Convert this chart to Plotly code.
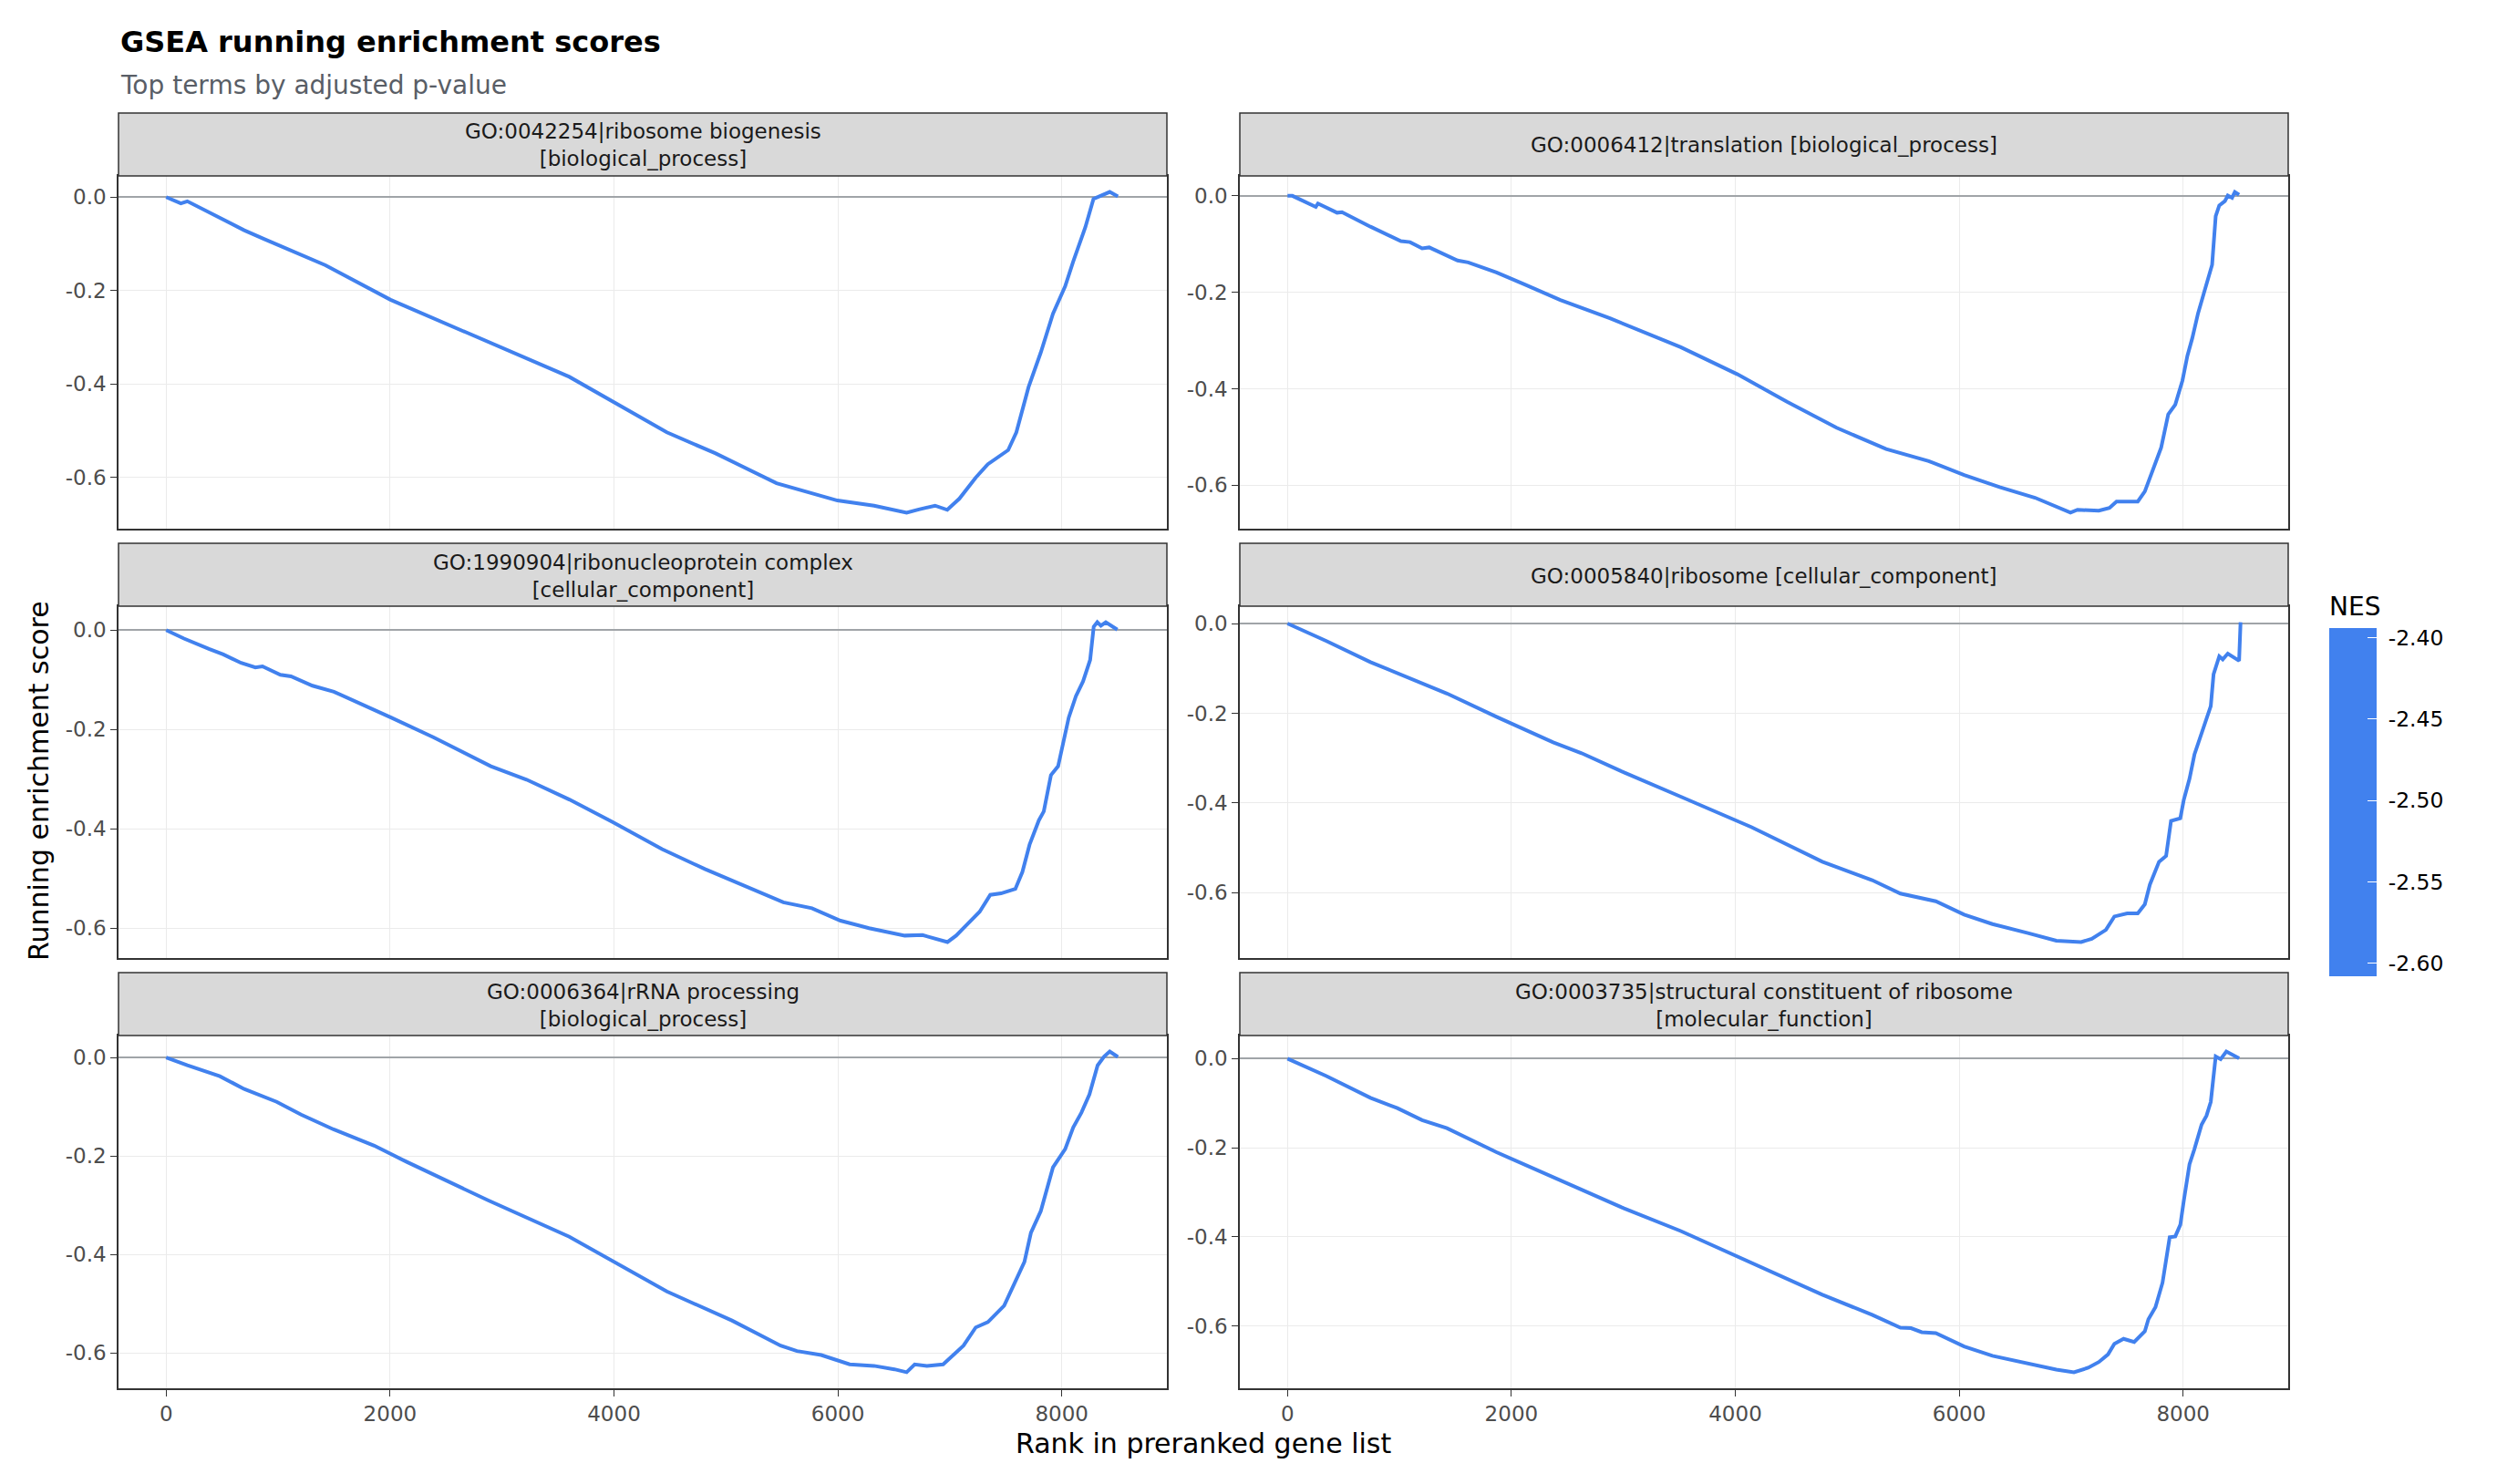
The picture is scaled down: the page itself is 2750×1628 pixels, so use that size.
import plotly.graph_objects as go
from plotly.subplots import make_subplots

# ---------- data ----------
terms = [
    "GO:0042254|ribosome biogenesis<br>[biological_process]",
    "GO:0006412|translation [biological_process]",
    "GO:1990904|ribonucleoprotein complex<br>[cellular_component]",
    "GO:0005840|ribosome [cellular_component]",
    "GO:0006364|rRNA processing<br>[biological_process]",
    "GO:0003735|structural constituent of ribosome<br>[molecular_function]",
]

rank_biogenesis = [0, 131, 189, 697, 878, 1423, 2004, 2693, 3601, 4472, 4908, 5452, 5996, 6323,
                   6614, 6723, 6868, 6977, 7085, 7231, 7340, 7521, 7594, 7703, 7812, 7921, 8030,
                   8102, 8211, 8283, 8356, 8428, 8501]
es_biogenesis = [0.0, -0.0135, -0.009, -0.071, -0.090, -0.146, -0.220, -0.291, -0.385, -0.504,
                 -0.549, -0.613, -0.650, -0.661, -0.676, -0.669, -0.661, -0.670, -0.646, -0.601,
                 -0.572, -0.542, -0.504, -0.407, -0.333, -0.250, -0.191, -0.138, -0.064, -0.004,
                 0.004, 0.011, 0.0015]

rank_translation = [0, 44, 253, 272, 443, 487, 741, 1013, 1095, 1203, 1266, 1519, 1614, 1867, 2120,
                    2437, 2880, 3513, 4019, 4462, 4905, 5348, 5728, 6044, 6361, 6677, 6994, 7057,
                    7247, 7342, 7405, 7595, 7658, 7722, 7804, 7867, 7930, 7994, 8038, 8082, 8133,
                    8184, 8228, 8259, 8291, 8323, 8373, 8399, 8437, 8462, 8500]
es_translation = [0.0, 0.0, -0.023, -0.016, -0.035, -0.034, -0.064, -0.094, -0.096, -0.109, -0.107,
                  -0.134, -0.138, -0.159, -0.184, -0.216, -0.254, -0.314, -0.370, -0.427, -0.481,
                  -0.525, -0.550, -0.579, -0.604, -0.626, -0.657, -0.651, -0.653, -0.647, -0.634,
                  -0.634, -0.613, -0.575, -0.522, -0.453, -0.433, -0.383, -0.332, -0.295, -0.244,
                  -0.203, -0.168, -0.143, -0.042, -0.020, -0.011, 0.0006, -0.004, 0.008, 0.002]

rank_rnp = [0, 159, 382, 510, 669, 797, 860, 1020, 1115, 1307, 1498, 1753, 2008, 2390, 2900, 3219,
            3601, 3983, 4429, 4812, 5194, 5513, 5768, 6023, 6278, 6597, 6756, 6884, 6979, 7056,
            7158, 7266, 7361, 7457, 7585, 7648, 7712, 7795, 7839, 7903, 7967, 8011, 8062, 8126,
            8190, 8253, 8285, 8317, 8349, 8393, 8496]
es_rnp = [0.0, -0.017, -0.038, -0.049, -0.066, -0.075, -0.073, -0.090, -0.093, -0.112, -0.124,
          -0.151, -0.176, -0.216, -0.274, -0.301, -0.341, -0.386, -0.441, -0.481, -0.518, -0.548,
          -0.560, -0.585, -0.600, -0.615, -0.614, -0.623, -0.628, -0.615, -0.591, -0.567, -0.533,
          -0.530, -0.521, -0.487, -0.432, -0.383, -0.365, -0.292, -0.274, -0.231, -0.176, -0.133,
          -0.103, -0.060, 0.007, 0.016, 0.009, 0.016, 0.001]

rank_ribosome = [0, 348, 741, 981, 1203, 1424, 1867, 2373, 2627, 3006, 3513, 4146, 4778, 5222,
                 5475, 5601, 5791, 6044, 6297, 6614, 6867, 7089, 7184, 7310, 7386, 7500, 7595,
                 7658, 7703, 7785, 7848, 7892, 7975, 8006, 8057, 8101, 8165, 8209, 8247, 8272,
                 8323, 8354, 8399, 8500, 8513]
es_ribosome = [0.0, -0.039, -0.086, -0.110, -0.134, -0.156, -0.208, -0.265, -0.289, -0.332, -0.386,
               -0.454, -0.531, -0.572, -0.602, -0.609, -0.619, -0.649, -0.670, -0.690, -0.707,
               -0.710, -0.703, -0.683, -0.653, -0.646, -0.646, -0.626, -0.582, -0.531, -0.518,
               -0.440, -0.434, -0.393, -0.346, -0.292, -0.245, -0.218, -0.184, -0.113, -0.073,
               -0.080, -0.067, -0.083, 0.003]

rank_rrna = [0, 189, 479, 697, 987, 1205, 1495, 1858, 2149, 2875, 3601, 4472, 5053, 5488, 5634,
             5851, 6105, 6323, 6505, 6614, 6686, 6795, 6940, 7122, 7231, 7340, 7485, 7594, 7666,
             7724, 7812, 7921, 8030, 8102, 8175, 8247, 8320, 8378, 8428, 8501]
es_rrna = [0.0, -0.016, -0.038, -0.064, -0.090, -0.116, -0.146, -0.179, -0.212, -0.290, -0.364,
           -0.475, -0.534, -0.585, -0.596, -0.604, -0.623, -0.626, -0.633, -0.639, -0.623, -0.626,
           -0.623, -0.585, -0.548, -0.537, -0.504, -0.452, -0.415, -0.356, -0.312, -0.223, -0.186,
           -0.142, -0.112, -0.075, -0.016, 0.002, 0.012, 0.001]

rank_structural = [0, 348, 741, 981, 1203, 1424, 1867, 2373, 2627, 3006, 3513, 4146, 4778, 5222,
                   5475, 5570, 5665, 5791, 6044, 6297, 6614, 6867, 7025, 7152, 7247, 7329, 7386,
                   7468, 7563, 7658, 7690, 7753, 7816, 7880, 7930, 7975, 8006, 8057, 8101, 8165,
                   8209, 8247, 8291, 8335, 8386, 8500]
es_structural = [0.0, -0.039, -0.088, -0.111, -0.138, -0.156, -0.210, -0.266, -0.292, -0.336,
                 -0.387, -0.459, -0.530, -0.575, -0.604, -0.605, -0.614, -0.616, -0.646, -0.667,
                 -0.684, -0.698, -0.704, -0.694, -0.681, -0.664, -0.640, -0.629, -0.636, -0.612,
                 -0.585, -0.558, -0.503, -0.401, -0.399, -0.373, -0.319, -0.237, -0.203, -0.148,
                 -0.128, -0.097, 0.005, -0.001, 0.016, 0.001]

ranks = [rank_biogenesis, rank_translation, rank_rnp, rank_ribosome, rank_rrna, rank_structural]
scores = [es_biogenesis, es_translation, es_rnp, es_ribosome, es_rrna, es_structural]

nes_range = [-2.608, -2.394]
nes_ticks = [-2.60, -2.55, -2.50, -2.45, -2.40]
x_ticks = [0, 2000, 4000, 6000, 8000]
y_ticks = [-0.6, -0.4, -0.2, 0.0]

# ---------- layout geometry (page pixels; the page body adds an 8px offset) ----------
OFF = 8
W, H = 2750 - OFF, 1628 - OFF
LEFT, RIGHT, TOP, BOTTOM = 130, 2510, 124, 1523
PW, PH = RIGHT - LEFT, BOTTOM - TOP
cols_px = [(130, 1280), (1360, 2510)]
panels_px = [(193, 580), (665, 1051), (1136, 1523)]
strips_px = [(124, 193), (596, 665), (1067, 1136)]

LINE_COL = "#4181EE"
FONT = "DejaVu Sans"


def fx(p):
    return (p - LEFT) / PW


def fy(p):
    return (BOTTOM - p) / PH


fig = make_subplots(rows=3, cols=2)

xmax = max(max(r) for r in ranks)
xpad = 0.05 * xmax
xrange = [-xpad, xmax + xpad]

shapes = []
annotations = []
for i, (rk, es) in enumerate(zip(ranks, scores)):
    row, col = i // 2 + 1, i % 2 + 1
    fig.add_trace(
        go.Scatter(x=rk, y=es, mode="lines", line=dict(color=LINE_COL, width=4),
                   showlegend=False, hoverinfo="skip"),
        row=row, col=col
    )
    lo, hi = min(es), max(es)
    pad = 0.05 * (hi - lo)
    c0, c1 = cols_px[col - 1]
    p0, p1 = panels_px[row - 1]
    s0, s1 = strips_px[row - 1]

    fig.update_xaxes(
        domain=[fx(c0), fx(c1)], range=xrange, tickvals=x_ticks,
        ticktext=[str(v) for v in x_ticks], showticklabels=(row == 3),
        ticks="outside" if row == 3 else "", ticklen=7, tickwidth=1.3, tickcolor="#333333",
        tickfont=dict(family=FONT, size=23, color="#4D4D4D"),
        showgrid=True, gridcolor="#EBEBEB", gridwidth=1.3, zeroline=False,
        showline=True, mirror=True, linecolor="#333333", linewidth=1.5,
        row=row, col=col
    )
    fig.update_yaxes(
        domain=[fy(p1), fy(p0)], range=[lo - pad, hi + pad], tickvals=y_ticks,
        ticktext=["%.1f" % v for v in y_ticks],
        ticks="outside", ticklen=7, tickwidth=1.3, tickcolor="#333333",
        tickfont=dict(family=FONT, size=23, color="#4D4D4D"),
        showgrid=True, gridcolor="#EBEBEB", gridwidth=1.3,
        zeroline=True, zerolinecolor="#A0A4A8", zerolinewidth=2,
        showline=True, mirror=True, linecolor="#333333", linewidth=1.5,
        row=row, col=col
    )

    # facet strip
    shapes.append(dict(type="rect", xref="paper", yref="paper",
                       x0=fx(c0), x1=fx(c1), y0=fy(s1), y1=fy(s0),
                       fillcolor="#D9D9D9", line=dict(color="#333333", width=1.5)))
    annotations.append(dict(text=terms[i], xref="paper", yref="paper",
                            x=fx((c0 + c1) / 2), y=fy((s0 + s1) / 2 + 1),
                            xanchor="center", yanchor="middle", showarrow=False,
                            font=dict(family=FONT, size=23, color="#1A1A1A")))

# colour bar for NES
fig.add_trace(
    go.Scatter(
        x=[None, None], y=[None, None], mode="markers", showlegend=False, hoverinfo="skip",
        marker=dict(
            color=nes_range, cmin=nes_range[0], cmax=nes_range[1],
            colorscale=[[0, LINE_COL], [1, LINE_COL]], showscale=True,
            colorbar=dict(
                title=dict(text="NES", side="top", font=dict(family=FONT, size=28, color="black")),
                x=fx(2555), xanchor="left",
                y=fy(1071), yanchor="bottom", lenmode="pixels", len=384 + 36,
                thickness=52, xpad=0, ypad=0, outlinewidth=0,
                tickvals=nes_ticks, ticktext=["\u00a0%.2f" % v for v in nes_ticks],
                ticks="inside", ticklen=10, tickcolor="white", tickwidth=1,
                tickfont=dict(family=FONT, size=23.5, color="black"),
            ),
        ),
    ),
    row=1, col=1
)

# titles
annotations += [
    dict(text="<b>GSEA running enrichment scores</b>", xref="paper", yref="paper",
         x=fx(130), y=fy(46), xanchor="left", yanchor="middle", showarrow=False,
         font=dict(family=FONT, size=32, color="black")),
    dict(text="Top terms by adjusted p-value", xref="paper", yref="paper",
         x=fx(130), y=fy(93), xanchor="left", yanchor="middle", showarrow=False,
         font=dict(family=FONT, size=28, color="#595E66")),
    dict(text="Rank in preranked gene list", xref="paper", yref="paper",
         x=fx(1320), y=fy(1583), xanchor="center", yanchor="middle", showarrow=False,
         font=dict(family=FONT, size=30, color="black")),
    dict(text="Running enrichment score", xref="paper", yref="paper",
         x=fx(42), y=fy(857), xanchor="center", yanchor="middle", textangle=-90,
         showarrow=False, font=dict(family=FONT, size=30, color="black")),
]

fig.update_layout(
    width=W, height=H,
    margin=dict(l=LEFT - OFF, r=W - (RIGHT - OFF), t=TOP - OFF, b=H - (BOTTOM - OFF),
                autoexpand=False),
    paper_bgcolor="white", plot_bgcolor="white",
    shapes=shapes, annotations=annotations,
    font=dict(family=FONT),
)

fig.write_html("out.html")
